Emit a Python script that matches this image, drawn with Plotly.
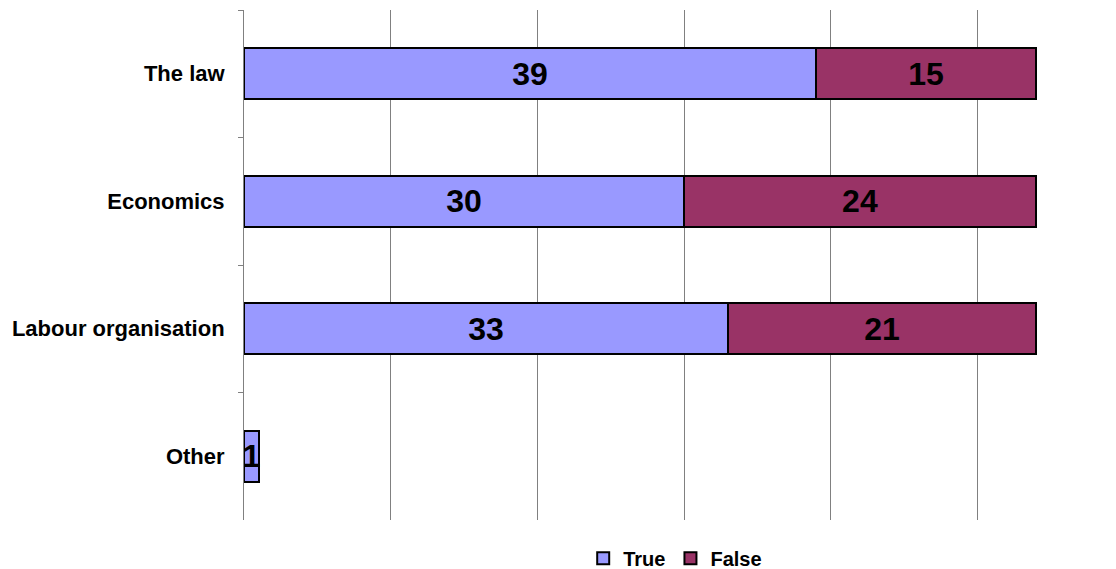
import plotly.graph_objects as go

categories = ["The law", "Economics", "Labour organisation", "Other"]
true_vals = [39, 30, 33, 1]
false_vals = [15, 24, 21, 0]

false_text = [str(v) if v else "" for v in false_vals]
num_font = dict(family="Liberation Sans, Arial", size=32, color="black", weight="bold")

fig = go.Figure()
fig.add_trace(go.Bar(
    y=categories, x=true_vals, name="True", orientation="h",
    marker=dict(color="#9999FF", line=dict(color="black", width=2)),
    text=[str(v) for v in true_vals], textposition="inside",
    insidetextanchor="middle", constraintext="none", textfont=num_font,
))
fig.add_trace(go.Bar(
    y=categories, x=false_vals, name="False", orientation="h",
    marker=dict(color="#993366", line=dict(color="black", width=2)),
    text=false_text, textposition="inside",
    insidetextanchor="middle", constraintext="none", textfont=num_font,
))

fig.update_layout(
    width=1116, height=569,
    barmode="stack", bargap=0.6,
    plot_bgcolor="white", paper_bgcolor="white",
    margin=dict(l=236, r=0, t=2, b=57, autoexpand=False),
    font=dict(family="Liberation Sans, Arial", size=16, color="black"),
    xaxis=dict(range=[0, 60], dtick=10, showgrid=True, gridcolor="#808080", gridwidth=1,
               showticklabels=False, zeroline=False, showline=False, ticks=""),
    yaxis=dict(categoryorder="array", categoryarray=categories, autorange="reversed",
               showline=True, linecolor="#808080", linewidth=1,
               ticks="outside", tickson="boundaries", ticklen=5, tickcolor="#808080",
               tickfont=dict(size=22, weight="bold"), ticklabelstandoff=14),
    legend=dict(orientation="h", x=0.49, xanchor="center", y=-0.037, yanchor="top",
                font=dict(size=20, weight="bold"), traceorder="normal",
                itemwidth=30, tracegroupgap=0),
    showlegend=True,
)
fig.write_html("out.html")
